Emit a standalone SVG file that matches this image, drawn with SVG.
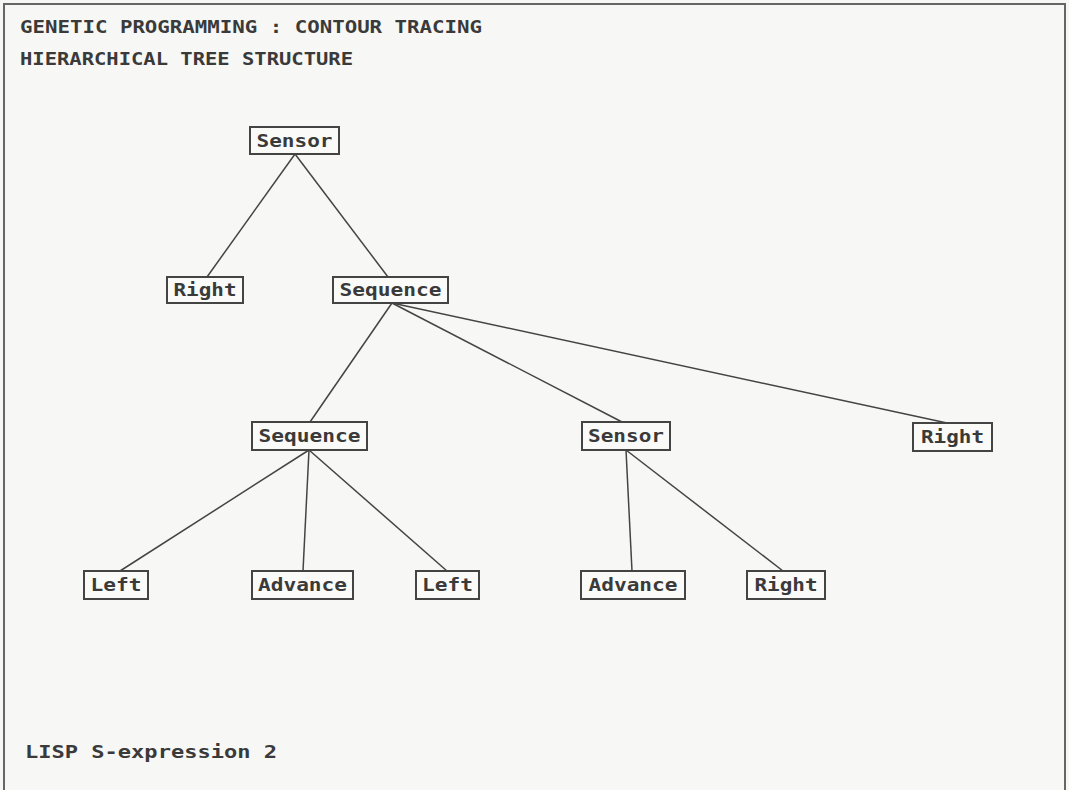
<svg xmlns="http://www.w3.org/2000/svg" width="1069" height="790" viewBox="0 0 1069 790">
<style>
.t{font-family:"DejaVu Sans Mono","Liberation Mono",monospace;font-weight:bold;fill:#3a3a3a;font-size:18px}
.n rect{fill:#fafaf8;stroke:#444;stroke-width:2}
.n text{font-family:"DejaVu Sans Mono","Liberation Mono",monospace;font-weight:bold;fill:#3a3a3a;font-size:18px;text-anchor:middle}
#edges line{stroke:#444;stroke-width:1.5}
</style>
<rect x="0" y="0" width="1069" height="790" fill="#f7f7f5"/>
<rect x="4" y="4" width="1061" height="800" fill="none" stroke="#666" stroke-width="2"/>
<text class="t" x="20" y="33" textLength="462" lengthAdjust="spacingAndGlyphs">GENETIC PROGRAMMING : CONTOUR TRACING</text>
<text class="t" x="20" y="65" textLength="333" lengthAdjust="spacingAndGlyphs">HIERARCHICAL TREE STRUCTURE</text>
<text class="t" x="25" y="758" textLength="252" lengthAdjust="spacingAndGlyphs">LISP S-expression 2</text>
<g id="edges">
<line x1="295" y1="154" x2="207" y2="277"/>
<line x1="295" y1="154" x2="388" y2="277"/>
<line x1="392" y1="303" x2="310" y2="422"/>
<line x1="392" y1="303" x2="622" y2="422"/>
<line x1="392" y1="303" x2="947" y2="423"/>
<line x1="309" y1="450" x2="120" y2="571"/>
<line x1="309" y1="450" x2="303" y2="571"/>
<line x1="309" y1="450" x2="447" y2="571"/>
<line x1="626" y1="450" x2="632" y2="571"/>
<line x1="626" y1="450" x2="783" y2="571"/>
</g>
<g id="n1" class="n"><rect x="250" y="127" width="89" height="27"/><text x="294.5" y="147" textLength="76" lengthAdjust="spacingAndGlyphs">Sensor</text></g>
<g id="n2" class="n"><rect x="167" y="277" width="76" height="26"/><text x="205" y="296" textLength="63" lengthAdjust="spacingAndGlyphs">Right</text></g>
<g id="n3" class="n"><rect x="333" y="277" width="115" height="26"/><text x="390.5" y="296" textLength="102" lengthAdjust="spacingAndGlyphs">Sequence</text></g>
<g id="n4" class="n"><rect x="252" y="422" width="115" height="28"/><text x="309.5" y="442" textLength="102" lengthAdjust="spacingAndGlyphs">Sequence</text></g>
<g id="n5" class="n"><rect x="582" y="422" width="88" height="28"/><text x="626" y="442" textLength="76" lengthAdjust="spacingAndGlyphs">Sensor</text></g>
<g id="n6" class="n"><rect x="913" y="423" width="79" height="28"/><text x="952.5" y="443" textLength="63" lengthAdjust="spacingAndGlyphs">Right</text></g>
<g id="n7" class="n"><rect x="84" y="571" width="64" height="28"/><text x="116" y="591" textLength="51" lengthAdjust="spacingAndGlyphs">Left</text></g>
<g id="n8" class="n"><rect x="252" y="571" width="101" height="28"/><text x="302.5" y="591" textLength="89" lengthAdjust="spacingAndGlyphs">Advance</text></g>
<g id="n9" class="n"><rect x="416" y="571" width="63" height="28"/><text x="447.5" y="591" textLength="51" lengthAdjust="spacingAndGlyphs">Left</text></g>
<g id="n10" class="n"><rect x="581" y="571" width="104" height="28"/><text x="633" y="591" textLength="89" lengthAdjust="spacingAndGlyphs">Advance</text></g>
<g id="n11" class="n"><rect x="747" y="571" width="78" height="28"/><text x="786" y="591" textLength="63" lengthAdjust="spacingAndGlyphs">Right</text></g>
</svg>
